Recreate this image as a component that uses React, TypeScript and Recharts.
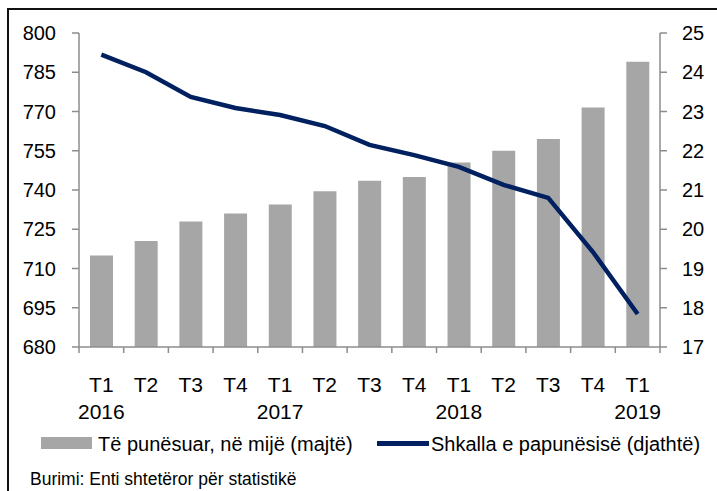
import { Bar, ComposedChart, Line, XAxis, YAxis } from "recharts";

const quarters = ["T1", "T2", "T3", "T4", "T1", "T2", "T3", "T4", "T1", "T2", "T3", "T4", "T1"];
const years = ["2016", "", "", "", "2017", "", "", "", "2018", "", "", "", "2019"];
const employed = [715, 720.5, 728, 731, 734.5, 739.5, 743.5, 745, 750.5, 755, 759.5, 771.5, 789];
const unemployment = [24.45, 24.0, 23.37, 23.09, 22.91, 22.63, 22.15, 21.89, 21.59, 21.13, 20.8, 19.42, 17.84];

const leftTicks = [680, 695, 710, 725, 740, 755, 770, 785, 800];
const rightTicks = [17, 18, 19, 20, 21, 22, 23, 24, 25];

const employedLabel = "Të punësuar, në mijë (majtë)";
const unemploymentLabel = "Shkalla e papunësisë (djathtë)";
const sourceLabel = "Burimi: Enti shtetëror për statistikë";

const BAR = "#a6a6a6";
const LINE = "#002060";
const AXIS = "#8c8c8c";
const FONT = '"Liberation Sans", Arial, sans-serif';

const PLOT_LEFT = 79;
const PLOT_RIGHT = 660;
const HALF_STEP = (PLOT_RIGHT - PLOT_LEFT) / quarters.length / 2;

const data = quarters.map((q, i) => ({
  key: `${q}-${i}`,
  quarter: q,
  year: years[i],
  employed: employed[i],
  unemployment: unemployment[i],
}));

function QuarterTick(props: any) {
  const { x, y, index } = props;
  const row = data[index];
  const last = index === data.length - 1;
  return (
    <g>
      <line x1={x - HALF_STEP} x2={x - HALF_STEP} y1={y} y2={y + 6} stroke={AXIS} strokeWidth={1.5} />
      {last && <line x1={x + HALF_STEP} x2={x + HALF_STEP} y1={y} y2={y + 6} stroke={AXIS} strokeWidth={1.5} />}
      <text x={x} y={y + 45} textAnchor="middle" fontSize={21} fill="#000" fontFamily={FONT}>
        {row.quarter}
      </text>
      {row.year && (
        <text x={x} y={y + 72} textAnchor="middle" fontSize={21} fill="#000" fontFamily={FONT}>
          {row.year}
        </text>
      )}
    </g>
  );
}

export default function App() {
  return (
    <div
      style={{
        position: "absolute",
        left: 0,
        top: 0,
        width: 717,
        height: 491,
        overflow: "hidden",
        background: "#fff",
        fontFamily: FONT,
      }}
    >
      <div
        style={{
          position: "absolute",
          left: 7,
          top: 8,
          width: 730,
          height: 500,
          borderLeft: "2px solid #111",
          borderTop: "2px solid #111",
        }}
      />
      <ComposedChart
        width={717}
        height={491}
        data={data}
        margin={{ top: 33, right: 0, bottom: 84, left: 0 }}
        barSize={23}
      >
        <XAxis
          dataKey="key"
          axisLine={{ stroke: AXIS, strokeWidth: 1.5 }}
          tickLine={false}
          tickSize={0}
          tickMargin={0}
          height={60}
          interval={0}
          tick={<QuarterTick />}
        />
        <YAxis
          yAxisId="left"
          orientation="left"
          width={79}
          domain={[680, 800]}
          ticks={leftTicks}
          interval={0}
          axisLine={{ stroke: AXIS, strokeWidth: 1.5 }}
          tickLine={{ stroke: AXIS, strokeWidth: 1.5 }}
          tickSize={7}
          tickMargin={16}
          tick={{ fill: "#000", fontSize: 20, fontFamily: FONT }}
        />
        <YAxis
          yAxisId="right"
          orientation="right"
          width={57}
          domain={[17, 25]}
          ticks={rightTicks}
          interval={0}
          axisLine={{ stroke: AXIS, strokeWidth: 1.5 }}
          tickLine={{ stroke: AXIS, strokeWidth: 1.5 }}
          tickSize={7}
          tickMargin={15}
          tick={{ fill: "#000", fontSize: 20, fontFamily: FONT, textAnchor: "start" }}
        />
        <Bar yAxisId="left" dataKey="employed" fill={BAR} isAnimationActive={false} />
        <Line
          yAxisId="right"
          type="linear"
          dataKey="unemployment"
          stroke={LINE}
          strokeWidth={4.5}
          dot={false}
          isAnimationActive={false}
        />
      </ComposedChart>

      <div style={{ position: "absolute", left: 41, top: 437, width: 51, height: 12, background: BAR }} />
      <div style={{ position: "absolute", left: 98, top: 432, fontSize: 20, lineHeight: "24px", whiteSpace: "nowrap" }}>
        {employedLabel}
      </div>
      <div style={{ position: "absolute", left: 377, top: 441, width: 52, height: 4.5, background: LINE }} />
      <div style={{ position: "absolute", left: 431, top: 432, fontSize: 20, lineHeight: "24px", whiteSpace: "nowrap" }}>
        {unemploymentLabel}
      </div>
      <div style={{ position: "absolute", left: 30, top: 468, fontSize: 17.5, lineHeight: "22px", whiteSpace: "nowrap" }}>
        {sourceLabel}
      </div>
    </div>
  );
}
